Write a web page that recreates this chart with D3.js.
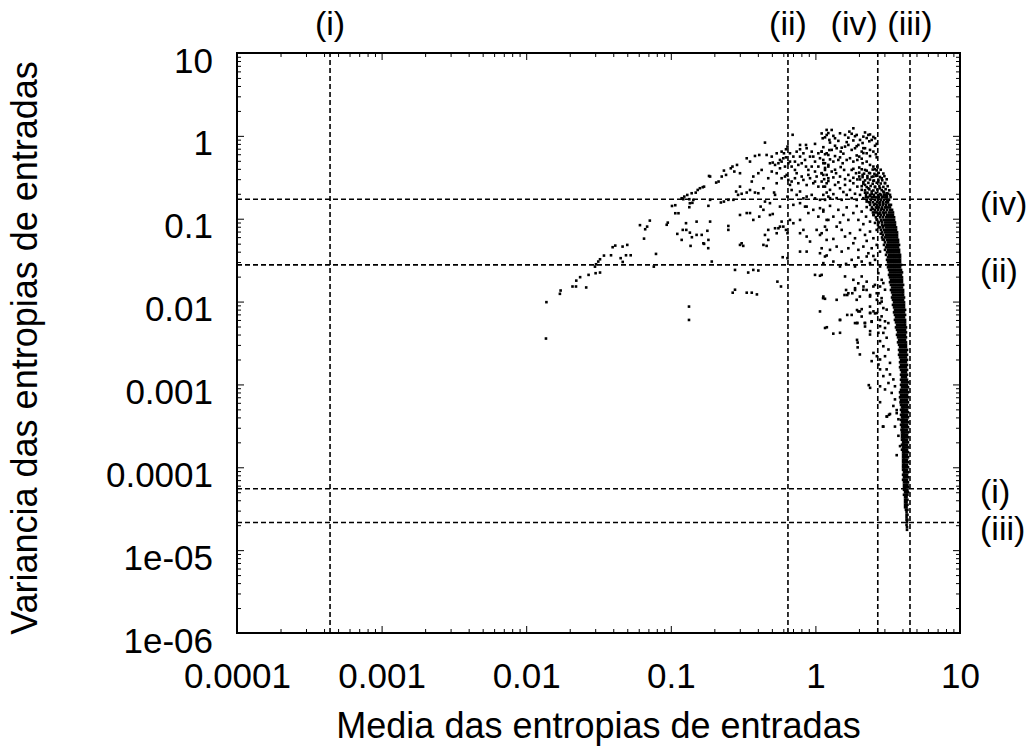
<!DOCTYPE html>
<html>
<head>
<meta charset="utf-8">
<script src="https://cdn.jsdelivr.net/npm/d3@7"></script>
<style>
  body { margin: 0; background: #fff; }
  svg { display: block; }
  text { font-family: "Liberation Sans", Arial, Helvetica, sans-serif; fill: #000; }
</style>
</head>
<body>
<svg id="chart" width="1034" height="752"></svg>
<script>
// Axis ticks
const xTickValues = [1e-4, 1e-3, 1e-2, 1e-1, 1, 10];
const xTickLabels = ["0.0001", "0.001", "0.01", "0.1", "1", "10"];
const yTickValues = [1e-6, 1e-5, 1e-4, 1e-3, 1e-2, 1e-1, 1, 10];
const yTickLabels = ["1e-06", "1e-05", "0.0001", "0.001", "0.01", "0.1", "1", "10"];

// Reference cases: mean and variance of the input entropies
const caseNames = ["(i)", "(ii)", "(iii)", "(iv)"];
const caseMean = [4.4e-4, 0.646, 4.51, 2.70];
const caseVariance = [5.5e-5, 0.0277, 2.16e-5, 0.172];

// Scatter points: [media, variancia]
const lowTail = [
  [0.0137,0.00358],[0.0138,0.00984],[0.0171,0.0124],[0.0173,0.0136],[0.0209,0.0152],[0.0221,0.0152],
  [0.0222,0.0179],[0.0236,0.0197],[0.0260,0.0148],[0.0270,0.0210],[0.0299,0.0264],[0.0304,0.0282],
  [0.0315,0.0304],[0.0324,0.0324],[0.0302,0.0220],[0.0324,0.0224],[0.0345,0.0359],[0.0386,0.0362],
  [0.0396,0.0453],[0.0413,0.0474],[0.0450,0.0334],[0.0465,0.0301],[0.0464,0.0461],[0.0500,0.0483],
  [0.0490,0.0362],[0.0528,0.0362],[0.0612,0.0836],[0.0653,0.0575],[0.0665,0.0746],[0.0686,0.0803],
  [0.0716,0.0949],[0.0790,0.0376],[0.0763,0.0264],[0.0937,0.0845],[0.0953,0.0897],[0.1019,0.1425],
  [0.1074,0.1455],[0.1074,0.1164],[0.1130,0.1164],[0.1109,0.0656],[0.1189,0.1766],[0.1220,0.172],
  [0.1240,0.185],[0.1189,0.0555],[0.121,0.0733],[0.128,0.0733],[0.1274,0.0883],[0.130,0.1935],
  [0.1394,0.203],[0.1487,0.2065],[0.1535,0.2225],[0.159,0.2333],[0.1663,0.2399],[0.1698,0.2438],
  [0.1343,0.172],[0.1432,0.1686],[0.1355,0.1538],[0.141,0.1555],[0.1343,0.1377],[0.1355,0.0679],
  [0.1399,0.0598],[0.1508,0.0638],[0.1508,0.0922],[0.137,0.0470],[0.1336,0.0087],[0.1336,0.0060],
  [0.1636,0.0638],[0.170,0.0497],[0.179,0.0715],[0.1815,0.0441],[0.1838,0.328]
];

const upperArc = [
  [0.696,1.03],[0.783,0.777],[0.861,0.777],[0.994,0.80],[1.105,1.07],[1.196,1.18],[1.249,0.893],
  [0.448,0.829],[0.584,0.645],[0.606,0.616],[0.626,0.689],[0.641,0.742],[0.667,0.616],[0.704,0.562],
  [0.742,0.645],[0.783,0.689],[0.826,0.616],[0.870,0.709],[0.943,0.645],[0.967,0.562],[1.048,0.616],
  [1.105,0.645],[1.134,0.512],[1.229,0.588],[1.249,0.674],[0.335,0.536],[0.353,0.489],[0.382,0.572],
  [0.409,0.588],[0.460,0.588],[0.485,0.467],[0.507,0.476],[0.526,0.446],[0.555,0.467],[0.584,0.489],
  [0.600,0.536],[0.626,0.55],[0.650,0.467],[0.685,0.426],[0.722,0.489],[0.762,0.446],[0.804,0.467],
  [0.861,0.426],[0.894,0.388],[0.943,0.426],[0.994,0.371],[1.048,0.426],[1.105,0.354],[1.165,0.388],
  [1.229,0.426],[0.187,0.323],[0.206,0.273],[0.214,0.281],[0.225,0.323],[0.233,0.381],[0.241,0.338],
  [0.260,0.406],[0.267,0.426],[0.275,0.371],[0.287,0.446],[0.301,0.354],[0.372,0.323],[0.363,0.281],
  [0.403,0.354],[0.425,0.388],[0.472,0.308],[0.499,0.371],[0.540,0.354],[0.569,0.406],[0.616,0.323],
  [0.650,0.294],[0.685,0.281],[0.722,0.308],[0.762,0.268],[0.826,0.294],[0.870,0.255],[0.918,0.308],
  [0.994,0.281],[1.048,0.244],[1.105,0.281],[1.165,0.244],[1.229,0.308],[0.182,0.143],[0.187,0.169],
  [0.222,0.157],[0.233,0.161],[0.250,0.169],[0.271,0.169],[0.283,0.213],[0.292,0.194],[0.301,0.244],
  [0.309,0.2],[0.335,0.207],[0.353,0.222],[0.382,0.207],[0.403,0.203],[0.448,0.161],[0.518,0.207],
  [0.526,0.194],[0.641,0.185],[0.685,0.222],[0.742,0.194],[0.783,0.213],[0.826,0.176],[0.870,0.185],
  [0.943,0.194],[0.994,0.176],[1.076,0.169],[1.134,0.194],[1.229,0.185],[0.187,0.0923],[0.418,0.140],
  [0.437,0.128],[0.301,0.111],[0.335,0.117],[0.353,0.117],[0.372,0.0967],[0.409,0.106],[0.485,0.111],
  [0.507,0.114],[0.584,0.0923],[0.667,0.0967],[0.704,0.0882],[0.783,0.0967],[0.848,0.140],[0.894,0.117],
  [0.967,0.128],[1.048,0.106],[1.134,0.122],[1.196,0.0967],[0.250,0.0818],[0.250,0.0733],[0.472,0.0733],
  [0.526,0.0767],[0.540,0.0668],[0.555,0.0767],[0.569,0.0803],[0.600,0.0803],[0.626,0.0733],[0.641,0.0668],
  [0.448,0.0637],[0.472,0.0555],[0.437,0.0483],[0.460,0.0470],[0.301,0.0483],[0.309,0.0505],[0.317,0.0470],
  [0.168,0.0505],[0.182,0.0555],[0.783,0.0668],[0.826,0.0733],[0.870,0.0609],[0.918,0.053],[1.020,0.0733],
  [1.076,0.0637],[1.165,0.0803],[1.196,0.0555],[0.594,0.0343],[0.641,0.0334],[0.192,0.0304],[0.783,0.0401],
  [0.870,0.0401],[1.076,0.0383],[1.165,0.035],[0.278,0.0241],[0.343,0.0224],[0.372,0.0241],[0.403,0.0237],
  [0.546,0.0174],[0.578,0.0152],[0.994,0.021],[1.076,0.0205],[0.278,0.0139],[0.268,0.0128],[0.335,0.0128],
  [0.363,0.0128],[0.394,0.0122],[1.165,0.0108],
  [0.499,0.562],[0.540,0.616],[0.569,0.512],[0.616,0.426],[0.667,0.489],[0.722,0.388],[0.783,0.562],
  [0.848,0.512],[0.918,0.562],[0.994,0.489],[1.076,0.537],[1.165,0.467],[0.540,0.268],[0.584,0.308],
  [0.633,0.338],[0.667,0.256],[0.742,0.354],[0.804,0.323],[0.894,0.338],[0.967,0.268],[1.020,0.323],
  [1.134,0.338],[1.196,0.268],[0.569,0.140],[0.704,0.147],[0.870,0.140],[1.076,0.134],[0.783,0.154],
  [0.485,0.154],[0.437,0.233]
];

const peakCloud = [
  [1.296,1.178],[1.197,1.026],[1.123,0.935],[1.367,0.935],[1.480,1.074],[1.603,1.026],[1.717,1.125],
  [1.830,1.234],[1.930,1.026],[2.035,0.893],[2.146,0.979],[2.324,1.026],[2.451,0.893],[2.584,0.935],
  [1.105,0.646],[1.197,0.616],[1.296,0.677],[1.403,0.709],[1.496,0.646],[1.603,0.742],[1.690,0.777],
  [1.782,0.677],[1.879,0.709],[1.982,0.777],[2.090,0.646],[2.204,0.709],[2.263,0.616],[2.386,0.677],
  [2.517,0.646],[1.135,0.467],[1.229,0.446],[1.331,0.489],[1.441,0.512],[1.544,0.467],[1.646,0.512],
  [1.735,0.537],[1.830,0.489],[1.95,0.512],[2.01,0.562],[2.12,0.467],[2.263,0.489],[2.386,0.446],
  [2.517,0.426],[2.68,0.426],[1.105,0.354],[1.197,0.338],[1.296,0.371],[1.39,0.354],[1.480,0.323],
  [1.58,0.388],[1.690,0.338],[1.782,0.388],[1.91,0.354],[2.01,0.323],[2.12,0.338],[2.204,0.388],
  [2.29,0.308],[2.386,0.354],[2.517,0.323],[2.654,0.338],[2.725,0.281],[2.874,0.308],[3.030,0.268],
  [1.135,0.244],[1.262,0.223],[1.367,0.256],[1.480,0.233],[1.603,0.256],[1.735,0.223],[1.830,0.268],
  [1.95,0.244],[2.090,0.223],[2.204,0.256],[2.324,0.233],[2.451,0.213],[2.584,0.244],[2.798,0.233],
  [2.951,0.213],[3.112,0.203],[3.281,0.194],[1.166,0.169],[1.262,0.177],[1.403,0.177],[1.520,0.169],
  [1.646,0.194],[1.782,0.177],[1.930,0.169],[2.035,0.194],[2.146,0.177],[2.263,0.161],[2.386,0.189],
  [1.135,0.128],[1.229,0.0967],[1.331,0.106],[1.441,0.128],[1.561,0.111],[1.690,0.0967],[1.830,0.117],
  [1.982,0.0967],[2.090,0.122],[2.24,0.106],[2.386,0.0923],[2.517,0.111],[1.105,0.0668],[1.197,0.0733],
  [1.403,0.0803],[1.520,0.0733],[1.603,0.0609],[1.735,0.0668],[1.879,0.0581],[2.035,0.0733],[2.204,0.0638],
  [2.386,0.0700],[2.517,0.0581],[2.654,0.0733],[1.105,0.0440],[1.262,0.0421],[1.403,0.0461],[1.520,0.0401],
  [1.690,0.0440],[1.830,0.0506],[1.982,0.0421],[2.146,0.0461],[2.324,0.0383],[2.451,0.0440],[2.654,0.0483],
  [2.798,0.0401],[1.135,0.0291],[1.331,0.0304],[1.480,0.0265],[1.63,0.0285],[1.782,0.0319],[1.879,0.0265],
  [2.090,0.0304],[2.263,0.0350],[2.386,0.0291],[2.584,0.0319],[2.798,0.0265],[1.105,0.0210],[1.603,0.0201],
  [1.830,0.0183],[2.090,0.0201],[2.263,0.0174],[2.517,0.0152],[2.725,0.0220],[2.874,0.0183],[1.135,0.0115],
  [1.403,0.0105],[1.690,0.0126],[1.930,0.0105],[2.146,0.0139],[2.386,0.0115],[2.654,0.0126],[2.874,0.0100],
  [3.030,0.0139],[1.480,0.0060],[1.782,0.0069],[1.982,0.0076],[2.090,0.0066],[2.386,0.0087],[2.584,0.0072],
  [2.798,0.0060],[3.112,0.0080],[1.166,0.0048],[1.480,0.0042],[1.879,0.0055],[2.204,0.0050],[2.386,0.0040],
  [2.725,0.0042],[3.030,0.0048],[3.195,0.0055]
];

const peakExtra = [
  [2.204,1.10],
  [1.229,1.08],[1.782,1.06],[2.386,1.04],
  [1.166,0.96],[1.331,1.00],[1.690,0.95],[1.879,0.99],[2.263,0.94],[2.517,0.97],
  [1.262,0.83],[1.441,0.87],[1.646,0.84],[1.830,0.88],[2.12,0.82],[2.36,0.86],[2.654,0.80],
  [1.135,0.73],[1.367,0.76],[1.520,0.72],[1.930,0.75],[2.146,0.71],[2.584,0.76],
  [1.166,0.60],[1.367,0.57],[1.561,0.61],[1.930,0.58],[2.146,0.62],[2.386,0.57],[2.62,0.60],
  [1.262,0.52],[1.480,0.55],[2.090,0.53],[2.654,0.55],
  [1.166,0.41],[1.367,0.39],[1.496,0.42],[1.830,0.40],[2.01,0.415],[2.584,0.395],
  [1.15,0.30],[1.331,0.315],[1.603,0.30],[1.830,0.312],[1.95,0.298],
  [1.229,0.285],[1.441,0.275],[1.735,0.287],[2.146,0.277],[2.517,0.286],
  [1.197,0.207],[1.331,0.198],[1.561,0.21],[1.879,0.2],[2.204,0.206],
  [1.262,0.143],[1.646,0.137],[1.930,0.142],[2.263,0.138],
  [1.480,0.09],[2.146,0.086],[2.584,0.089],
  [1.331,0.057],[2.263,0.054],
  [1.197,0.036],[1.982,0.034],[2.517,0.0355]
];

// Knee where the cloud meets the core band
const knee = [
  [2.090,0.395],[2.263,0.38],[2.49,0.392],[2.654,0.383],[2.83,0.39],
  [2.01,0.36],[2.17,0.35],[2.35,0.357],[2.56,0.348],[2.74,0.358],[2.951,0.351],
  [2.12,0.318],[2.29,0.327],[2.451,0.32],[2.62,0.329],[2.798,0.319],[3.00,0.326],
  [2.035,0.298],[2.204,0.29],[2.386,0.297],[2.54,0.289],[2.725,0.296],[2.90,0.291],[3.112,0.299],
  [2.146,0.265],[2.324,0.271],[2.49,0.264],[2.654,0.272],[2.83,0.266],[3.030,0.27],
  [2.090,0.247],[2.263,0.241],[2.41,0.248],[2.584,0.24],[2.77,0.246],[2.951,0.242],[3.16,0.247],
  [2.204,0.22],[2.36,0.226],[2.517,0.219],[2.68,0.225],[2.874,0.221],[3.06,0.227],[3.24,0.22],
  [2.29,0.206],[2.451,0.2],[2.62,0.205],[2.798,0.199],[2.98,0.207],[3.18,0.201],
  [2.24,0.182],[2.386,0.188],[2.54,0.183],[2.725,0.189],[2.92,0.184],[3.112,0.187],[3.31,0.182],
  [2.386,0.157],[2.584,0.151],[2.77,0.156],[2.951,0.152],[3.14,0.158],
  [2.49,0.131],[2.68,0.136],[2.874,0.132],[3.08,0.137],
  [2.584,0.119],[2.77,0.115],[2.98,0.118],
  [2.654,0.098],[2.86,0.095],[2.74,0.079],[2.951,0.082],[2.83,0.066],[2.92,0.056]
];

const lowerSpray = [
  [1.13,0.0110],[1.076,0.0076],[1.20,0.0049],[1.33,0.0041],[1.48,0.0060],[1.66,0.0069],[1.80,0.0126],
  [1.88,0.0145],[1.98,0.0166],[1.59,0.0120],[1.63,0.0138],[1.94,0.0079],[2.03,0.0076],[2.09,0.0081],
  [1.94,0.0055],[2.20,0.0055],[2.39,0.0073],[2.45,0.0057],[2.39,0.0044],[1.94,0.00345],[1.96,0.0032],
  [1.96,0.0028],[2.03,0.0023],[2.34,0.00098],[2.39,0.00091],[2.80,0.00061],[2.93,0.00031],[3.13,0.00041],
  [3.23,0.00043],[3.65,0.00049],
  [2.58,0.0159],[2.80,0.0152],[2.95,0.0167],[2.73,0.0126],[2.87,0.0110],[2.66,0.0105],[2.39,0.0120],
  [2.26,0.0138],[2.15,0.0152],[2.03,0.0115],[1.88,0.0138],[1.66,0.0120],[2.80,0.00956],[2.95,0.00835],
  [2.66,0.00727],[2.87,0.00663],[3.03,0.00578],[2.80,0.00504],[2.52,0.00762],[2.39,0.00727],[2.20,0.00552],
  [2.45,0.00578],[1.95,0.00552],[2.95,0.00419],[3.11,0.00366],[2.80,0.00333],[2.95,0.00289],[3.20,0.00264],
  [3.03,0.00219],[2.80,0.00200],[3.28,0.00182],[2.66,0.00219],[2.52,0.00240],[2.45,0.00191],[2.73,0.00174],
  [3.11,0.00152],[3.28,0.00132],[3.46,0.00115],[3.20,0.00104],[3.55,0.00095],[3.03,0.00087],[3.37,0.00079],
  [2.80,0.00152],[2.95,0.00126],[2.80,0.00095],[3.55,0.00066],[3.46,0.00055],[3.65,0.00045],[3.75,0.00038],
  [3.55,0.00031],[3.28,0.00044],[3.11,0.00041],[2.95,0.00031],[3.75,0.00024],[3.85,0.00018],[3.65,0.00014]
];

// Dense core band: [variancia, [media, ...]]
const coreBand = [
  [0.194,[2.24,2.39,2.54,2.71,2.84,2.98,3.08]],[0.181,[2.31,2.46,2.62,2.75,2.89,3.03,3.13]],
  [0.169,[2.27,2.42,2.58,2.71,2.84,2.98,3.13,3.23]],[0.158,[2.35,2.50,2.67,2.80,2.93,3.08,3.18]],
  [0.147,[2.39,2.54,2.67,2.80,2.93,3.08,3.23,3.33]],[0.137,[2.46,2.62,2.75,2.89,3.03,3.18,3.28]],
  [0.128,[2.42,2.58,2.71,2.84,2.98,3.13,3.28,3.39]],[0.119,[2.50,2.67,2.80,2.93,3.08,3.23,3.33,3.44]],
  [0.111,[2.54,2.71,2.84,2.98,3.13,3.23,3.33,3.44]],[0.104,[2.62,2.80,2.93,3.08,3.18,3.28,3.39,3.50]],
  [0.0967,[2.67,2.84,2.98,3.08,3.18,3.28,3.39,3.50]],[0.0902,[2.75,2.89,3.03,3.13,3.23,3.33,3.44,3.55]],
  [0.0842,[2.71,2.89,3.03,3.13,3.23,3.33,3.44,3.55]],[0.0786,[2.80,2.93,3.08,3.18,3.28,3.39,3.50,3.61]],
  [0.0733,[2.84,2.98,3.08,3.18,3.28,3.39,3.50,3.61]],[0.0684,[2.89,3.03,3.13,3.23,3.33,3.44,3.55,3.67]],
  [0.0638,[2.93,3.08,3.18,3.28,3.39,3.50,3.61,3.67]],[0.0595,[2.89,3.03,3.13,3.23,3.33,3.44,3.55,3.67]],
  [0.0555,[2.98,3.13,3.23,3.33,3.44,3.55,3.67,3.73]],[0.0518,[3.03,3.18,3.28,3.39,3.50,3.61,3.73]],
  [0.0483,[2.98,3.13,3.23,3.33,3.44,3.55,3.67,3.79]],[0.0451,[3.08,3.18,3.28,3.39,3.50,3.61,3.73]],
  [0.0421,[3.03,3.18,3.28,3.39,3.50,3.61,3.73,3.79]],[0.0393,[3.13,3.23,3.33,3.44,3.55,3.67,3.79]],
  [0.0366,[3.08,3.23,3.33,3.44,3.55,3.67,3.79,3.85]],[0.0342,[3.18,3.28,3.39,3.50,3.61,3.73,3.85]],
  [0.0319,[3.13,3.23,3.33,3.44,3.55,3.67,3.79,3.85]],[0.0298,[3.18,3.28,3.39,3.50,3.61,3.73,3.85]],
  [0.0277,[3.23,3.33,3.44,3.55,3.67,3.79,3.91]],[0.0259,[3.18,3.28,3.39,3.50,3.61,3.73,3.85]],
  [0.0241,[3.23,3.33,3.44,3.55,3.67,3.79,3.91]],[0.0225,[3.28,3.39,3.50,3.61,3.73,3.85,3.97]],
  [0.0210,[3.23,3.33,3.44,3.55,3.67,3.79,3.91]],[0.0196,[3.28,3.39,3.50,3.61,3.73,3.85,3.97]],
  [0.0183,[3.33,3.44,3.55,3.67,3.79,3.91,3.97]],[0.0171,[3.28,3.39,3.50,3.61,3.73,3.85,3.97]],
  [0.0159,[3.33,3.44,3.55,3.67,3.79,3.91,4.04]],[0.0148,[3.39,3.50,3.61,3.73,3.85,3.97]],
  [0.0138,[3.33,3.44,3.55,3.67,3.79,3.91,4.04]],[0.0129,[3.39,3.50,3.61,3.73,3.85,3.97,4.04]],
  [0.0120,[3.44,3.55,3.67,3.79,3.91,4.04]],[0.0112,[3.39,3.50,3.61,3.73,3.85,3.97,4.10]],
  [0.0105,[3.44,3.55,3.67,3.79,3.91,4.04]],[0.00978,[3.50,3.61,3.73,3.85,3.97,4.10]],
  [0.00912,[3.44,3.55,3.67,3.79,3.91,4.04,4.10]],[0.00851,[3.50,3.61,3.73,3.85,3.97,4.10]],
  [0.00794,[3.55,3.67,3.79,3.91,4.04,4.17]],[0.00741,[3.50,3.61,3.73,3.85,3.97,4.10]],
  [0.00691,[3.55,3.67,3.79,3.91,4.04,4.17]],[0.00645,[3.61,3.73,3.85,3.97,4.10]],
  [0.00601,[3.55,3.67,3.79,3.91,4.04,4.17]],[0.00561,[3.61,3.73,3.85,3.97,4.10,4.17]],
  [0.00523,[3.67,3.79,3.91,4.04,4.17]],[0.00488,[3.61,3.73,3.85,3.97,4.10,4.23]],
  [0.00456,[3.67,3.79,3.91,4.04,4.17]],[0.00425,[3.73,3.85,3.97,4.10,4.23]],
  [0.00397,[3.67,3.79,3.91,4.04,4.17]],[0.00370,[3.73,3.85,3.97,4.10,4.23]],
  [0.00345,[3.79,3.91,4.04,4.17]],[0.00322,[3.73,3.85,3.97,4.10,4.23]],
  [0.00301,[3.79,3.91,4.04,4.17,4.23]],[0.00281,[3.85,3.97,4.10,4.23]],
  [0.00261,[3.79,3.91,4.04,4.17,4.30]],[0.00244,[3.85,3.97,4.10,4.23]],
  [0.00228,[3.79,3.91,4.04,4.17,4.30]],[0.00212,[3.85,3.97,4.10,4.23]],
  [0.00198,[3.91,4.04,4.17,4.30]],[0.00185,[3.85,3.97,4.10,4.23]],
  [0.00172,[3.91,4.04,4.17,4.30]],[0.00161,[3.85,3.97,4.10,4.23]],
  [0.00150,[3.91,4.04,4.17,4.30]],[0.00140,[3.97,4.10,4.23]],
  [0.00131,[3.91,4.04,4.17,4.30]],[0.00122,[3.97,4.10,4.23]],
  [0.00114,[3.91,4.04,4.17,4.30]],[0.00106,[3.97,4.10,4.23,4.37]],
  [0.000989,[3.91,4.04,4.17,4.30]],[0.000923,[3.97,4.10,4.23,4.37]],
  [0.000861,[3.91,4.04,4.17,4.30]],[0.000803,[3.85,3.97,4.10,4.23,4.37]],
  [0.000749,[3.91,4.04,4.17,4.30]],[0.000699,[3.85,3.97,4.10,4.23,4.37]],
  [0.000652,[3.91,4.04,4.17,4.30]],[0.000608,[3.88,3.97,4.10,4.23,4.37]],
  [0.000567,[3.91,4.04,4.17,4.30]],[0.000529,[3.97,4.04,4.10,4.23,4.37]],
  [0.000494,[3.91,4.04,4.17,4.30]],[0.000461,[3.97,4.04,4.10,4.23,4.37]],
  [0.000430,[3.91,4.04,4.17,4.30]],[0.000401,[3.97,4.04,4.10,4.23,4.37]],
  [0.000374,[3.91,4.04,4.17,4.30]],[0.000349,[3.97,4.04,4.10,4.23,4.37]],
  [0.000326,[3.91,4.04,4.17,4.30]],[0.000304,[3.97,4.04,4.10,4.23,4.37]],
  [0.000283,[3.94,4.04,4.17,4.30]],[0.000264,[3.97,4.04,4.10,4.23,4.37]],
  [0.000247,[3.97,4.04,4.10,4.17,4.30]],[0.000230,[3.97,4.04,4.10,4.23,4.37]],
  [0.000215,[3.97,4.04,4.10,4.17,4.30]],[0.000200,[4.04,4.10,4.23,4.37]],
  [0.000187,[3.97,4.04,4.10,4.17,4.30]],[0.000174,[4.04,4.10,4.23,4.37]],
  [0.000163,[3.97,4.04,4.10,4.17,4.30]],[0.000152,[4.04,4.10,4.23,4.37]],
  [0.000142,[4.04,4.10,4.17,4.30]],[0.000132,[4.04,4.10,4.23,4.37]],
  [0.000123,[4.04,4.10,4.17,4.30]],[0.000115,[4.04,4.10,4.23,4.37]],
  [0.000107,[4.04,4.10,4.17,4.30]],[0.000100,[4.04,4.10,4.23,4.37]],
  [9.33e-5,[4.04,4.10,4.17,4.30]],[8.7e-5,[4.10,4.23,4.37]],[8.12e-5,[4.04,4.10,4.17,4.30]],
  [7.57e-5,[4.10,4.23,4.37]],[7.06e-5,[4.04,4.10,4.17,4.30]],[6.59e-5,[4.10,4.23,4.37]],
  [6.15e-5,[4.10,4.23,4.33]],[5.74e-5,[4.10,4.23,4.37]],[5.35e-5,[4.10,4.23,4.33]],
  [4.99e-5,[4.17,4.27,4.37]],[4.66e-5,[4.10,4.23,4.33]],[4.35e-5,[4.17,4.27]],
  [4.05e-5,[4.17,4.23,4.33]],[3.78e-5,[4.17,4.27]],[3.53e-5,[4.17,4.23,4.33]],[3.29e-5,[4.17,4.27]],
  [3.07e-5,[4.23,4.33]],[2.87e-5,[4.27]],[2.67e-5,[4.27,4.33]],[2.49e-5,[4.27]],
  [2.33e-5,[4.27,4.33]],[2.17e-5,[4.30]],[2.02e-5,[4.27]],[1.89e-5,[4.30]],[1.76e-5,[4.30]]
];

// ---- layout ----
const W = 1034, H = 752;
const plot = { left: 237, right: 960, top: 53, bottom: 633 };
const fontStack = "'Liberation Sans', Arial, Helvetica, sans-serif";

const svg = d3.select("#chart");
svg.append("rect").attr("width", W).attr("height", H).attr("fill", "#fff");

const x = d3.scaleLog().domain([1e-4, 10]).range([plot.left, plot.right]);
const y = d3.scaleLog().domain([1e-6, 10]).range([plot.bottom, plot.top]);

// minor tick positions 2..9 inside each decade
function minorTicks(scale) {
  const [a, b] = scale.domain();
  return scale.ticks().filter(t => {
    const m = t / Math.pow(10, Math.floor(Math.log10(t) + 1e-9));
    return Math.abs(m - 1) > 1e-6 && t > a && t < b;
  });
}

const majorLen = 7, minorLen = 4;
const axisStyle = g => {
  g.select(".domain").remove();
  g.selectAll(".tick line").attr("stroke", "#000").attr("stroke-width", 1);
};

// bottom axis with labels
const gx = svg.append("g").attr("transform", `translate(0,${plot.bottom})`)
  .call(d3.axisBottom(x).tickValues(xTickValues).tickFormat((d, i) => xTickLabels[i])
    .tickSizeInner(-majorLen).tickSizeOuter(0).tickPadding(0))
  .call(axisStyle);
gx.selectAll(".tick text").attr("y", 55).attr("dy", null)
  .attr("font-size", 35).attr("fill", "#000").style("font-family", fontStack);

svg.append("g").attr("transform", `translate(0,${plot.bottom})`)
  .call(d3.axisBottom(x).tickValues(minorTicks(x)).tickFormat("").tickSizeInner(-minorLen).tickSizeOuter(0))
  .call(axisStyle);

// top mirror ticks
svg.append("g").attr("transform", `translate(0,${plot.top})`)
  .call(d3.axisTop(x).tickValues(xTickValues).tickFormat("").tickSizeInner(-majorLen).tickSizeOuter(0))
  .call(axisStyle);
svg.append("g").attr("transform", `translate(0,${plot.top})`)
  .call(d3.axisTop(x).tickValues(minorTicks(x)).tickFormat("").tickSizeInner(-minorLen).tickSizeOuter(0))
  .call(axisStyle);

// left axis with labels
const gy = svg.append("g").attr("transform", `translate(${plot.left},0)`)
  .call(d3.axisLeft(y).tickValues(yTickValues).tickFormat((d, i) => yTickLabels[i])
    .tickSizeInner(-majorLen).tickSizeOuter(0).tickPadding(24))
  .call(axisStyle);
gy.selectAll(".tick text").attr("dy", 19)
  .attr("font-size", 35).attr("fill", "#000").style("font-family", fontStack);

svg.append("g").attr("transform", `translate(${plot.left},0)`)
  .call(d3.axisLeft(y).tickValues(minorTicks(y)).tickFormat("").tickSizeInner(-minorLen).tickSizeOuter(0))
  .call(axisStyle);

// right mirror ticks
svg.append("g").attr("transform", `translate(${plot.right},0)`)
  .call(d3.axisRight(y).tickValues(yTickValues).tickFormat("").tickSizeInner(-majorLen).tickSizeOuter(0))
  .call(axisStyle);
svg.append("g").attr("transform", `translate(${plot.right},0)`)
  .call(d3.axisRight(y).tickValues(minorTicks(y)).tickFormat("").tickSizeInner(-minorLen).tickSizeOuter(0))
  .call(axisStyle);

// dashed reference lines for the four cases
const refs = svg.append("g").attr("stroke", "#000").attr("stroke-width", 1.6)
  .attr("stroke-dasharray", "5,3").attr("fill", "none");
caseMean.forEach(m => {
  refs.append("line").attr("x1", x(m)).attr("x2", x(m)).attr("y1", y(1e-6)).attr("y2", y(10));
});
caseVariance.forEach(v => {
  refs.append("line").attr("x1", x(1e-4)).attr("x2", x(10)).attr("y1", y(v)).attr("y2", y(v));
});

// collect all scatter points
const points = [];
[lowTail, upperArc, peakCloud, peakExtra, knee, lowerSpray].forEach(set => set.forEach(p => points.push(p)));
coreBand.forEach(([v, ms]) => ms.forEach(m => points.push([m, v])));

const dot = 2.6;
svg.append("g").selectAll("rect").data(points).join("rect")
  .attr("x", d => x(d[0]) - dot / 2)
  .attr("y", d => y(d[1]) - dot / 2)
  .attr("width", dot).attr("height", dot)
  .attr("fill", "#000");

// frame
svg.append("rect")
  .attr("x", plot.left).attr("y", plot.top)
  .attr("width", plot.right - plot.left).attr("height", plot.bottom - plot.top)
  .attr("fill", "none").attr("stroke", "#000").attr("stroke-width", 2);

// case labels: above the plot for the mean, right of the plot for the variance
const labelFont = 34;
const rightOffset = { "(i)": 14, "(ii)": 17, "(iii)": 18, "(iv)": 16 };
caseNames.forEach((name, i) => {
  const isIV = name === "(iv)";
  svg.append("text")
    .attr("x", x(caseMean[i]))
    .attr("y", 35)
    .attr("text-anchor", isIV ? "end" : "middle")
    .attr("font-size", labelFont)
    .text(name);
  svg.append("text")
    .attr("x", 980)
    .attr("y", y(caseVariance[i]) + rightOffset[name])
    .attr("text-anchor", "start")
    .attr("font-size", labelFont)
    .text(name);
});

// axis titles
svg.append("text")
  .attr("x", (plot.left + plot.right) / 2)
  .attr("y", 738)
  .attr("text-anchor", "middle")
  .attr("font-size", 36)
  .text("Media das entropias de entradas");

svg.append("text")
  .attr("transform", `translate(37,${(plot.top + plot.bottom) / 2 + 5}) rotate(-90)`)
  .attr("text-anchor", "middle")
  .attr("font-size", 36)
  .text("Variancia das entropias de entradas");
</script>
</body>
</html>
